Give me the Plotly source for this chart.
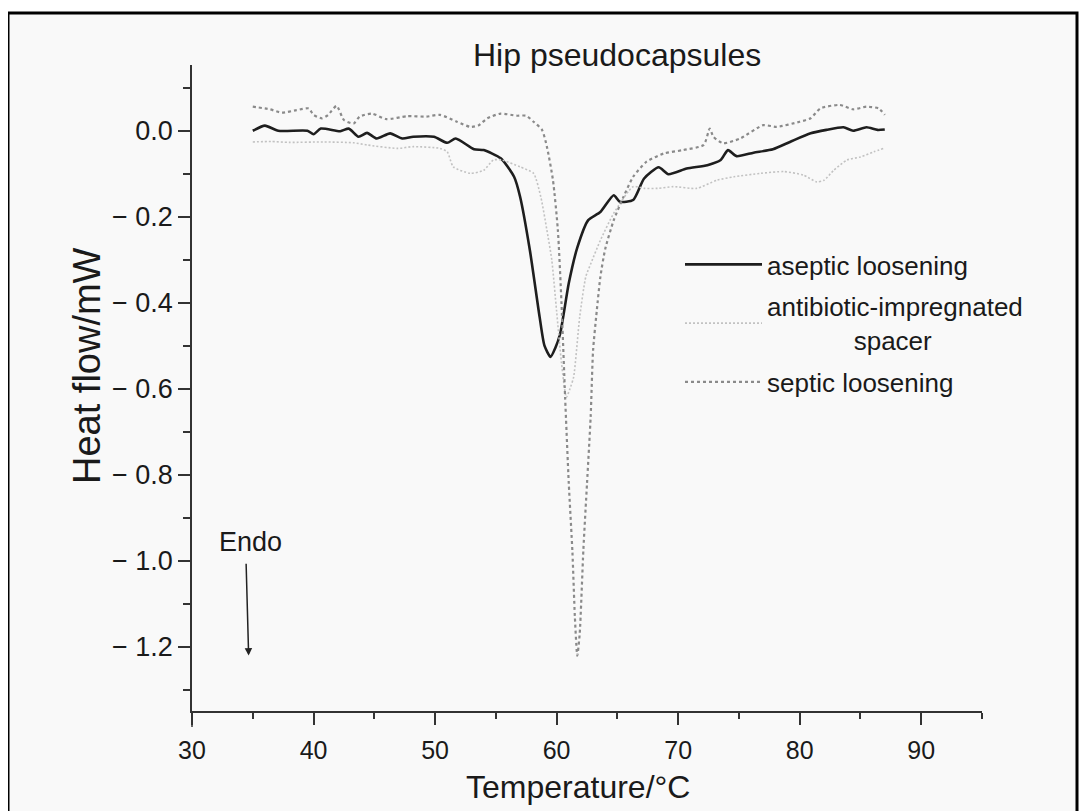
import plotly.graph_objects as go

# ---------------- data ----------------
aseptic_x = [35.0, 36.0, 37.1, 39.5, 40.0, 40.6, 42.2, 42.9, 43.7, 44.4, 45.2, 46.3, 47.3, 48.2,
             49.9, 51.0, 51.7, 53.2, 54.0, 55.4, 56.5, 57.0, 57.8, 58.6, 59.0, 59.5, 59.9, 60.3,
             61.0, 61.7, 62.6, 63.6, 64.7, 65.2, 66.3, 67.2, 68.4, 69.2, 70.7, 72.4, 73.5, 74.1,
             74.8, 76.2, 77.8, 79.2, 80.9, 82.2, 83.6, 84.4, 85.5, 86.4, 87.0]
aseptic_y = [0.000, 0.012, 0.000, 0.000, -0.008, 0.005, -0.001, 0.005, -0.014, -0.005, -0.018,
             -0.006, -0.018, -0.014, -0.014, -0.028, -0.018, -0.043, -0.045, -0.064, -0.107,
             -0.154, -0.278, -0.433, -0.500, -0.526, -0.505, -0.471, -0.355, -0.272, -0.208,
             -0.189, -0.150, -0.165, -0.161, -0.111, -0.085, -0.101, -0.088, -0.080, -0.068,
             -0.045, -0.059, -0.051, -0.043, -0.026, -0.006, 0.002, 0.008, 0.000, 0.008, 0.002,
             0.003]

spacer_x = [35.0, 36.5, 38.0, 40.8, 43.3, 44.4, 46.9, 48.2, 50.4, 51.0, 51.5, 52.9, 54.0, 54.8,
            55.5, 57.0, 58.1, 58.7, 59.2, 59.6, 60.0, 60.4, 60.8, 61.1, 61.4, 61.9, 62.4, 62.8,
            63.6, 64.7, 66.3, 67.2, 68.3, 69.6, 71.5, 73.2, 74.6, 76.8, 78.7, 80.3, 81.4, 82.0,
            82.8, 83.9, 85.0, 86.1, 86.9]
spacer_y = [-0.026, -0.025, -0.027, -0.026, -0.028, -0.033, -0.041, -0.037, -0.041, -0.049,
            -0.084, -0.099, -0.092, -0.068, -0.068, -0.084, -0.099, -0.154, -0.231, -0.300,
            -0.420, -0.540, -0.620, -0.600, -0.573, -0.433, -0.340, -0.310, -0.255, -0.192,
            -0.130, -0.134, -0.134, -0.130, -0.134, -0.115, -0.107, -0.099, -0.095, -0.103,
            -0.119, -0.115, -0.092, -0.068, -0.061, -0.049, -0.041]

septic_x = [35.0, 36.4, 37.4, 38.6, 39.6, 40.0, 40.7, 41.2, 41.9, 42.5, 43.3, 43.8, 44.8, 46.0,
            47.7, 49.3, 50.4, 51.8, 52.9, 53.6, 54.3, 55.4, 56.7, 57.5, 58.1, 58.8, 59.2, 59.7,
            60.1, 60.4, 60.7, 61.0, 61.3, 61.5, 61.7, 61.9, 62.2, 62.5, 62.8, 63.0, 63.3, 63.6,
            64.0, 64.7, 65.5, 66.3, 67.4, 68.8, 70.4, 72.1, 72.6, 72.9, 73.7, 75.1, 77.0, 78.1,
            80.0, 80.9, 81.7, 83.3, 84.4, 85.5, 86.5, 87.0]
septic_y = [0.056, 0.050, 0.042, 0.048, 0.052, 0.037, 0.029, 0.037, 0.058, 0.025, 0.017, 0.033,
            0.040, 0.027, 0.034, 0.033, 0.037, 0.021, 0.009, 0.013, 0.029, 0.040, 0.035, 0.035,
            0.021, 0.002, -0.037, -0.115, -0.230, -0.400, -0.620, -0.820, -0.980, -1.130,
            -1.221, -1.170, -0.976, -0.821, -0.666, -0.511, -0.420, -0.340, -0.275, -0.208,
            -0.154, -0.107, -0.072, -0.053, -0.045, -0.033, 0.005, -0.014, -0.029, -0.018,
            0.013, 0.009, 0.021, 0.029, 0.052, 0.060, 0.050, 0.056, 0.052, 0.037]

NB = "\u00a0"
series_names = ["aseptic loosening",
                "antibiotic-impregnated<br>" + NB * 12 + "spacer",
                "septic loosening"]

x_tickvals = [30, 40, 50, 60, 70, 80, 90]
y_tickvals = [0.0, -0.2, -0.4, -0.6, -0.8, -1.0, -1.2]
y_ticktext = ["0.0", "\u2212 0.2", "\u2212 0.4", "\u2212 0.6", "\u2212 0.8", "\u2212 1.0", "\u2212 1.2"]

title_text = "Hip pseudocapsules"
x_title = "Temperature/\u00b0C"
y_title = "Heat flow/mW"
endo_text = "Endo"

# ---------------- figure ----------------
# the page body adds an 8px margin, so the figure is 8px smaller than the window
OFF = 8
W, H = 1087 - OFF, 811 - OFF
ML, MR, MT, MB = 184, 105, 57, 100
PW, PH = W - ML - MR, H - MT - MB


def px_x(p):  # page pixel -> paper x
    return (p - OFF - ML) / PW


def px_y(p):  # page pixel -> paper y
    return (H - MB - (p - OFF)) / PH


FONT = "Liberation Sans, Arial, Helvetica, sans-serif"
TXT = "#1a1a1a"
AX = "#333333"

fig = go.Figure()
fig.add_trace(go.Scatter(x=aseptic_x, y=aseptic_y, name=series_names[0], mode="lines",
                         line=dict(color="#1e1e1e", width=2.6, shape="spline", smoothing=0.6),
                         legendgroup="a"))
fig.add_trace(go.Scatter(x=spacer_x, y=spacer_y, name=series_names[1], mode="lines",
                         line=dict(color="#c2c2c2", width=1.6, dash="2px,2px", shape="spline",
                                   smoothing=0.6),
                         legendgroup="b"))
fig.add_trace(go.Scatter(x=septic_x, y=septic_y, name=series_names[2], mode="lines",
                         line=dict(color="#8a8a8a", width=2.2, dash="3px,3px", shape="spline",
                                   smoothing=0.6),
                         legendgroup="c"))

fig.update_layout(
    width=W, height=H,
    margin=dict(l=ML, r=MR, t=MT, b=MB),
    paper_bgcolor="white",
    plot_bgcolor="rgba(0,0,0,0)",
    font=dict(family=FONT, color=TXT),
    showlegend=True,
    legend=dict(x=px_x(680), y=px_y(241), xanchor="left", yanchor="top",
                bgcolor="rgba(0,0,0,0)", font=dict(size=26, family=FONT, color=TXT),
                itemwidth=77, tracegroupgap=5, traceorder="grouped"),
    xaxis=dict(range=[30, 95], tickvals=x_tickvals, ticks="outside", ticklen=12,
               tickwidth=1.5, tickcolor=AX, showline=True, linecolor=AX,
               linewidth=1.5, showgrid=False, zeroline=False, ticklabelstandoff=4,
               tickfont=dict(size=25, family=FONT, color=TXT),
               minor=dict(dtick=5, tick0=35, ticks="outside", ticklen=6, tickwidth=1.5,
                          tickcolor=AX, showgrid=False)),
    yaxis=dict(range=[-1.350, 0.153], tickvals=y_tickvals, ticktext=y_ticktext,
               ticks="outside", ticklen=12, tickwidth=1.5, tickcolor=AX,
               showline=True, linecolor=AX, linewidth=1.5, showgrid=False,
               zeroline=False, tickfont=dict(size=27, family=FONT, color=TXT),
               minor=dict(tickvals=[0.1, -0.1, -0.3, -0.5, -0.7, -0.9, -1.1, -1.3],
                          ticks="outside", ticklen=7, tickwidth=1.5, tickcolor=AX,
                          showgrid=False)),
)

# outer frame with light-grey fill
fig.add_shape(type="rect", xref="paper", yref="paper",
              x0=px_x(8), x1=px_x(1077), y0=px_y(815), y1=px_y(13),
              line=dict(color="black", width=3), fillcolor="#f9f9f9", layer="below")
# y axis overshoot below the x axis
fig.add_shape(type="line", xref="paper", yref="paper", x0=0, x1=0,
              y0=0, y1=px_y(727), line=dict(color=AX, width=1.5))

fig.add_annotation(text=title_text, xref="paper", yref="paper", x=px_x(617), y=px_y(55),
                   showarrow=False, font=dict(size=32, family=FONT, color=TXT),
                   xanchor="center", yanchor="middle")
fig.add_annotation(text=x_title, xref="paper", yref="paper", x=px_x(578), y=px_y(787),
                   showarrow=False, font=dict(size=32, family=FONT, color=TXT),
                   xanchor="center", yanchor="middle")
fig.add_annotation(text=y_title, xref="paper", yref="paper", x=px_x(87), y=px_y(366),
                   showarrow=False, textangle=-90,
                   font=dict(size=38, family=FONT, color=TXT),
                   xanchor="center", yanchor="middle")
fig.add_annotation(text=endo_text, x=34.8, y=-0.957, xref="x", yref="y", showarrow=False,
                   font=dict(size=27, family=FONT, color=TXT))
fig.add_annotation(text="", x=34.66, y=-1.221, ax=34.45, ay=-1.004, xref="x", yref="y",
                   axref="x", ayref="y", showarrow=True, arrowhead=2, arrowsize=1,
                   arrowwidth=1.5, arrowcolor="#222")

fig.write_html("out.html")
